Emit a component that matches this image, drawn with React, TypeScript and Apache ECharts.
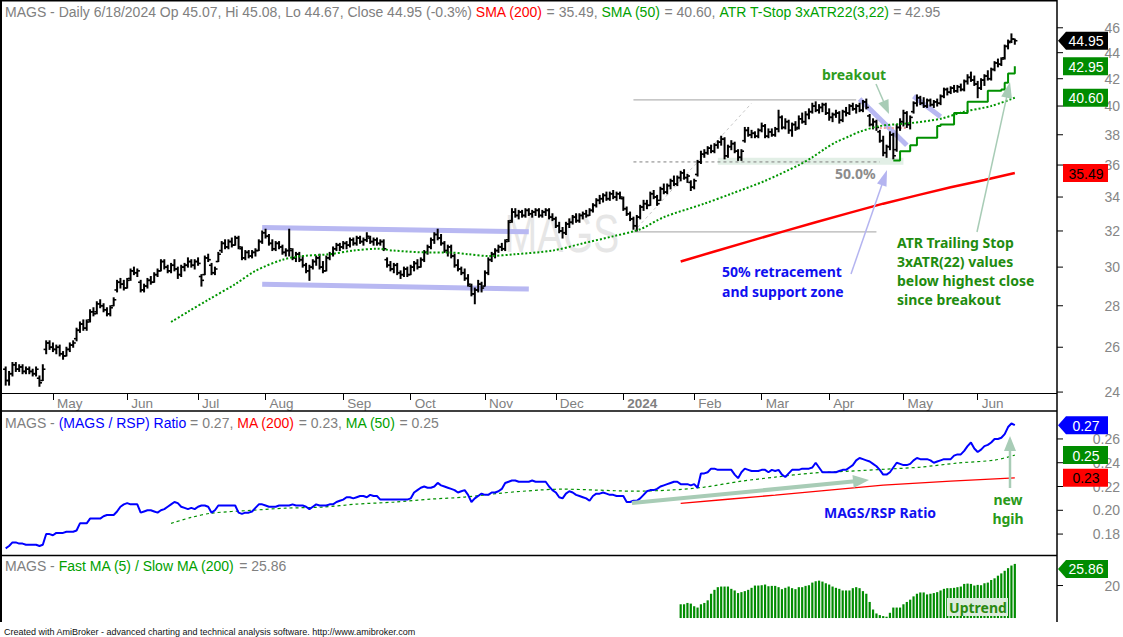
import React, { useEffect, useRef } from "react";
import * as echarts from "echarts";

// ---------- categories / ticks ----------
const N_BARS = 300;
const N_CATS = 312;
const CATS = Array.from({ length: N_CATS }, (_, i) => String(i));
const MONTH_START = [14, 36, 57, 77, 100, 120, 142, 163, 183, 204, 224, 244, 266, 288];
const MONTH_NAME = ["May", "Jun", "Jul", "Aug", "Sep", "Oct", "Nov", "Dec", "2024", "Feb", "Mar", "Apr", "May", "Jun"];
const PRICE_TICKS = [24, 26, 28, 30, 32, 34, 36, 38, 40, 42, 44, 46];
const RATIO_TICKS = [0.18, 0.2, 0.22, 0.24, 0.26];
const OSC_TICKS = [20];

// ---------- price bars [open, high, low, close] (Apr 11 2023 .. Jun 18 2024) ----------
const PRICE_BARS = [
  [25.0,25.1,24.3,24.5],[24.5,24.9,24.3,24.8],[24.8,25.3,24.7,25.2],[25.2,25.3,24.9,25.0],[25.0,25.2,24.9,25.1],
  [25.1,25.2,24.8,24.9],[24.9,25.1,24.8,25.0],[25.0,25.1,24.8,24.9],[24.9,25.0,24.7,24.8],[24.8,25.1,24.7,25.0],
  [24.6,24.7,24.25,24.4],[24.5,25.2,24.5,25.0],[25.9,26.3,25.7,26.2],[26.2,26.3,25.9,26.0],[26.0,26.2,25.8,25.9],
  [25.9,26.1,25.7,26.0],[26.0,26.1,25.6,25.7],[25.7,25.8,25.45,25.6],[25.6,26.0,25.6,25.9],[25.9,26.2,25.8,26.1],
  [26.1,26.3,26.0,26.2],[26.4,26.9,26.3,26.8],[26.8,27.2,26.7,27.1],[27.1,27.3,26.8,26.9],[26.9,27.3,26.8,27.2],
  [27.3,27.8,27.2,27.7],[27.7,27.9,27.5,27.6],[27.7,28.2,27.6,28.1],[28.1,28.3,27.9,28.0],[28.0,28.1,27.7,27.8],
  [27.8,27.9,27.5,27.6],[27.6,28.0,27.5,27.9],[28.0,28.4,28.0,28.3],[28.8,29.3,28.7,29.2],[29.2,29.4,28.9,29.1],
  [29.1,29.3,28.8,28.9],[28.9,29.4,28.9,29.3],[29.4,29.9,29.3,29.8],[29.8,30.0,29.6,29.7],[29.7,29.9,29.5,29.8],
  [29.2,29.3,28.7,28.8],[28.8,29.1,28.7,29.0],[29.0,29.4,28.9,29.3],[29.3,29.5,29.1,29.2],[29.2,29.7,29.2,29.6],
  [29.6,29.9,29.5,29.8],[29.8,30.4,29.8,30.3],[30.3,30.4,29.9,30.0],[30.0,30.1,29.7,29.8],[29.8,30.2,29.7,30.1],
  [30.1,30.4,29.8,29.9],[29.9,30.0,29.4,29.6],[29.6,30.1,29.5,30.0],[30.0,30.2,29.8,30.1],[30.1,30.5,30.0,30.3],
  [30.3,30.4,30.0,30.1],[30.1,30.4,29.9,30.3],[30.3,30.5,30.1,30.2],[29.5,29.6,29.0,29.3],[29.6,30.6,29.6,30.5],
  [30.5,30.7,30.3,30.4],[30.1,30.2,29.6,29.7],[29.7,30.0,29.6,29.9],[30.3,30.8,30.3,30.7],[30.9,31.4,30.8,31.3],
  [31.3,31.5,31.0,31.1],[31.1,31.5,31.0,31.4],[31.4,31.6,31.1,31.2],[31.2,31.7,31.2,31.6],[31.6,31.7,31.0,31.1],
  [31.0,31.1,30.4,30.5],[30.5,30.9,30.4,30.8],[30.8,30.9,30.5,30.6],[30.6,30.9,30.5,30.8],[30.8,31.0,30.6,30.9],
  [30.9,31.5,30.9,31.4],[31.4,32.0,31.3,31.9],[31.9,32.1,31.6,31.7],[31.7,31.8,31.2,31.3],[31.3,31.5,30.9,31.0],
  [31.0,31.4,30.9,31.3],[31.3,31.4,31.0,31.1],[31.1,31.2,30.7,30.8],[30.8,31.0,30.6,30.9],[30.9,32.1,30.6,31.0],
  [30.9,31.0,30.4,30.5],[30.5,30.8,30.3,30.7],[30.7,30.8,30.3,30.4],[30.4,30.6,30.0,30.1],[30.1,30.2,29.7,29.8],
  [29.8,30.1,29.3,30.0],[30.0,30.4,29.9,30.3],[30.3,30.6,30.1,30.5],[30.5,30.7,29.9,30.0],[30.0,30.3,29.7,29.8],
  [29.8,30.6,29.8,30.5],[30.5,30.8,30.4,30.7],[30.7,31.1,30.6,31.0],[31.0,31.3,30.9,31.2],[31.2,31.3,30.9,31.1],
  [31.1,31.4,31.0,31.3],[31.3,31.4,31.0,31.2],[31.2,31.6,31.1,31.5],[31.5,31.6,31.2,31.3],[31.3,31.7,31.2,31.6],
  [31.6,31.7,31.3,31.4],[31.4,31.6,31.2,31.5],[31.5,31.9,31.4,31.7],[31.6,31.7,31.3,31.4],[31.4,31.6,31.2,31.5],
  [31.5,31.6,31.2,31.3],[31.3,31.5,31.2,31.4],[31.4,31.5,30.9,31.0],[30.4,30.5,30.0,30.1],[30.1,30.3,29.8,29.9],
  [29.9,30.2,29.7,30.1],[30.1,30.2,29.6,29.7],[29.7,29.8,29.4,29.6],[29.6,30.0,29.5,29.9],[29.9,30.0,29.5,29.6],
  [29.6,30.1,29.6,30.0],[30.0,30.3,29.8,30.2],[30.2,30.4,29.9,30.0],[30.0,30.5,30.0,30.4],[30.4,30.9,30.3,30.8],
  [30.8,31.2,30.7,31.1],[31.1,31.6,31.0,31.5],[31.5,31.9,31.3,31.8],[31.8,32.1,31.5,31.6],[31.6,31.8,31.2,31.3],
  [31.3,31.4,30.8,30.9],[30.9,31.2,30.6,31.1],[31.1,31.2,30.5,30.6],[30.6,30.7,30.0,30.1],[30.1,30.4,29.8,29.9],
  [29.9,30.0,29.6,29.7],[29.7,29.9,29.3,29.4],[29.4,29.6,29.0,29.1],[29.0,29.1,28.5,28.6],[28.6,28.9,28.1,28.8],
  [28.8,29.3,28.7,29.1],[29.1,29.2,28.7,28.9],[29.0,29.8,29.0,29.7],[29.7,30.5,29.6,30.4],[30.4,30.8,30.3,30.7],
  [30.7,31.0,30.5,30.9],[30.9,31.2,30.8,31.1],[31.1,31.3,30.9,31.0],[31.0,31.5,30.9,31.4],[31.5,32.6,31.4,32.5],
  [32.6,33.3,32.5,33.1],[33.1,33.3,32.8,32.9],[32.9,33.2,32.7,33.1],[33.1,33.2,32.8,32.9],[32.9,33.3,32.8,33.2],
  [33.2,33.3,32.9,33.0],[33.0,33.2,32.8,33.1],[33.1,33.3,32.9,33.2],[33.2,33.3,32.8,32.9],[32.9,33.2,32.8,33.1],
  [33.1,33.3,32.9,33.2],[33.2,33.3,32.7,32.8],[32.8,33.0,32.6,32.7],[32.7,32.8,32.2,32.3],[32.3,32.5,31.9,32.0],
  [32.0,32.2,31.6,31.9],[31.9,32.5,31.8,32.4],[32.4,32.7,32.2,32.5],[32.5,32.9,32.4,32.8],[32.8,33.0,32.5,32.6],
  [32.6,33.0,32.5,32.9],[32.9,33.1,32.7,33.0],[33.0,33.2,32.8,32.9],[32.9,33.3,32.9,33.2],[33.2,33.6,33.1,33.5],
  [33.5,33.9,33.4,33.8],[33.8,34.1,33.6,33.9],[33.9,34.2,33.7,34.1],[34.1,34.3,33.8,33.9],[33.9,34.3,33.8,34.2],
  [34.2,34.4,33.9,34.0],[34.0,34.3,33.8,34.2],[34.2,34.3,33.9,34.0],[33.9,34.0,33.2,33.3],[33.3,33.4,32.9,33.0],
  [33.0,33.1,32.6,32.7],[32.7,32.8,32.1,32.3],[32.3,32.9,32.0,32.8],[32.8,33.5,32.7,33.4],[33.4,33.8,33.2,33.6],
  [33.6,33.8,33.3,33.5],[33.5,34.3,33.5,34.2],[34.2,34.4,33.9,34.0],[34.0,34.1,33.5,33.6],[33.8,34.6,33.8,34.5],
  [34.5,34.8,34.2,34.3],[34.3,34.8,34.2,34.7],[34.7,35.1,34.5,35.0],[35.0,35.3,34.7,34.8],[34.8,35.3,34.7,35.2],
  [35.2,35.6,35.0,35.5],[35.5,35.7,35.1,35.2],[35.2,35.4,34.9,35.3],[34.9,35.0,34.4,34.6],[34.6,35.1,34.5,35.0],
  [35.4,36.3,35.3,36.2],[36.2,36.9,36.1,36.7],[36.7,37.0,36.5,36.8],[36.8,37.2,36.7,37.1],[37.1,37.3,36.8,36.9],
  [36.9,37.4,36.8,37.3],[37.3,37.6,37.1,37.5],[37.5,37.9,37.3,37.7],[37.7,37.8,36.4,36.6],[36.6,37.3,36.5,37.2],
  [37.2,37.6,37.0,37.4],[37.4,37.5,36.8,36.9],[36.9,37.0,36.3,36.5],[36.5,37.0,36.3,36.9],[37.6,38.5,37.5,38.3],
  [38.3,38.5,37.9,38.0],[38.0,38.3,37.8,38.1],[38.1,38.2,37.8,37.9],[37.9,38.4,37.8,38.3],[38.3,38.8,38.2,38.6],
  [38.6,38.7,37.8,37.9],[37.9,38.4,37.8,38.2],[38.2,38.4,37.9,38.0],[38.0,38.5,37.9,38.4],[38.4,39.7,38.2,39.2],
  [39.2,39.3,38.4,38.5],[38.5,39.1,38.4,38.9],[38.9,39.0,38.1,38.3],[38.3,38.8,37.9,38.7],[38.7,38.9,38.3,38.4],
  [38.5,39.3,38.4,39.1],[39.1,39.5,38.8,38.9],[38.9,39.6,38.7,39.4],[39.4,39.8,39.1,39.6],[39.6,40.2,39.5,40.0],
  [40.0,40.3,39.6,39.7],[39.7,40.1,39.5,39.9],[39.9,40.2,39.6,40.1],[40.1,40.2,39.4,39.5],[39.5,39.8,39.0,39.2],
  [39.2,39.5,38.9,39.4],[39.4,39.7,39.2,39.5],[39.5,39.6,38.8,39.0],[39.0,39.7,38.9,39.6],[39.6,39.9,39.3,39.5],
  [39.5,40.1,39.4,40.0],[40.0,40.2,39.7,39.8],[39.8,40.1,39.5,40.0],[40.0,40.2,39.6,39.7],[39.7,40.4,39.6,40.3],
  [40.3,40.5,39.8,39.9],[39.3,39.4,38.6,38.7],[38.7,39.1,38.4,38.9],[38.9,39.0,38.3,38.5],[38.2,38.3,37.5,37.6],
  [37.6,37.9,36.6,36.8],[36.8,37.3,36.5,37.2],[37.2,38.2,37.0,38.0],[38.0,38.1,36.4,36.6],[37.0,38.7,36.9,38.5],
  [38.5,39.1,38.3,38.9],[38.9,39.7,38.6,39.5],[39.5,39.6,38.5,38.7],[38.7,39.3,38.4,39.2],[39.6,40.3,39.5,40.2],
  [40.2,40.8,40.0,40.6],[40.6,40.7,40.1,40.2],[40.2,40.6,39.9,40.0],[40.0,40.5,39.9,40.4],[40.4,40.5,40.0,40.1],
  [40.1,40.4,39.9,40.3],[40.3,40.5,40.0,40.2],[40.2,40.8,40.1,40.7],[40.7,41.3,40.6,41.2],[41.2,41.3,40.8,41.0],
  [41.0,41.4,40.9,41.3],[41.3,41.5,41.0,41.1],[41.1,41.5,41.0,41.4],[41.4,41.6,41.1,41.2],[41.2,41.9,41.1,41.8],
  [41.8,42.3,41.6,42.1],[42.1,42.5,41.8,41.9],[41.9,42.2,41.5,41.6],[41.6,41.8,40.6,41.3],[41.3,42.0,41.2,41.9],
  [41.9,42.3,41.5,42.2],[42.2,42.6,41.9,42.0],[42.0,42.8,41.9,42.7],[42.7,43.3,42.6,43.2],[43.2,43.5,42.9,43.1],
  [43.1,43.6,43.0,43.5],[43.6,44.6,43.5,44.5],[44.5,45.0,44.3,44.8],[44.9,45.5,44.8,45.09],[45.07,45.08,44.67,44.95],
];

// ---------- price overlays ----------
const SMA200 = [[200,30.3],[210,30.85],[220,31.4],[230,31.95],[240,32.5],[250,33.05],[260,33.6],[270,34.1],[280,34.6],[290,35.05],[299,35.49]];
const SMA50 = [[49,27.2],[54,27.7],[60,28.3],[68,29.1],[74,29.8],[82,30.4],[88,30.6],[96,30.7],[103,30.9],[110,31.0],[115,30.9],[125,30.8],[131,30.8],[137,30.7],[143,30.6],[151,30.7],[162,30.9],[171,31.3],[180,31.7],[188,32.1],[195,32.8],[207,33.6],[215,34.2],[225,35.0],[235,36.0],[239,36.5],[243,37.1],[246,37.5],[250,37.9],[253,38.2],[259,38.6],[268,38.8],[277,39.1],[284,39.6],[292,40.0],[299,40.6]];
const ATR_START = 263;
const ATR_STOP = [36.3,36.3,36.9,36.9,36.9,37.3,37.3,37.8,37.8,37.8,37.8,37.8,37.8,38.6,38.7,38.7,38.7,38.7,39.5,39.5,39.5,39.5,40.3,40.3,40.3,40.3,40.3,40.3,41.1,41.1,41.1,41.1,41.2,41.7,42.4,42.4,42.95];

// ---------- ratio panel ----------
const RATIO = [
  .168,.170,.173,.173,.172,.172,.171,.171,.171,.171,
  .170,.171,.180,.180,.179,.181,.181,.181,.182,.182,
  .182,.183,.189,.189,.189,.193,.193,.193,.193,.195,
  .196,.196,.196,.199,.203,.205,.206,.205,.205,.205,
  .198,.199,.200,.200,.199,.198,.200,.201,.203,.205,
  .207,.206,.203,.202,.201,.202,.201,.203,.204,.204,
  .203,.198,.200,.204,.204,.204,.204,.204,.204,.198,
  .197,.198,.198,.199,.202,.205,.205,.204,.203,.203,
  .203,.204,.204,.204,.204,.205,.204,.204,.204,.203,
  .201,.203,.205,.204,.204,.204,.205,.205,.207,.208,
  .209,.211,.211,.210,.211,.212,.212,.211,.213,.212,
  .212,.209,.209,.209,.209,.209,.209,.209,.209,.209,
  .210,.215,.217,.219,.220,.219,.219,.220,.223,.221,
  .220,.219,.218,.217,.215,.216,.217,.213,.207,.210,
  .212,.214,.213,.213,.215,.215,.216,.218,.223,.224,
  .225,.225,.224,.224,.224,.224,.225,.224,.224,.224,
  .224,.220,.217,.215,.211,.210,.214,.216,.215,.213,
  .212,.211,.210,.208,.212,.214,.214,.215,.214,.213,
  .213,.212,.212,.212,.207,.207,.208,.208,.210,.213,
  .216,.217,.217,.218,.220,.221,.222,.223,.224,.224,
  .222,.222,.222,.221,.222,.219,.231,.231,.232,.235,
  .235,.234,.234,.234,.234,.234,.230,.227,.232,.235,
  .234,.233,.233,.233,.234,.234,.232,.234,.233,.234,
  .230,.228,.231,.234,.234,.234,.235,.235,.235,.236,
  .240,.236,.232,.232,.232,.232,.232,.233,.234,.234,
  .236,.238,.242,.244,.243,.242,.241,.239,.237,.234,
  .230,.230,.232,.236,.240,.239,.238,.238,.239,.242,
  .244,.243,.243,.243,.242,.240,.241,.242,.243,.243,
  .243,.246,.247,.247,.250,.254,.257,.252,.249,.251,
  .254,.255,.257,.260,.260,.261,.264,.270,.273,.2716,
];
const RATIO_MA50 = [[49,.189],[55,.194],[61,.1976],[73,.200],[83,.2018],[94,.2027],[104,.2052],[115,.2069],[126,.2094],[136,.2111],[147,.2145],[158,.217],[165,.2178],[175,.217],[186,.2161],[197,.217],[207,.2195],[218,.2245],[228,.2279],[239,.2313],[250,.2329],[261,.2346],[271,.2363],[282,.2397],[293,.2422],[299,.2464]];
const RATIO_MA200 = [[200,.2058],[214,.2093],[228,.2128],[244,.2170],[260,.2212],[280,.2245],[299,.2273]];

// ---------- fast/slow oscillator ----------
const OSC_START = 200;
const OSC_BASE = 11.2;
const OSC = [
  14.93,14.93,15.29,15.11,14.4,14.04,14.93,15.29,16.0,17.78,
  18.84,19.56,19.73,19.73,19.73,19.11,18.67,17.96,18.22,18.49,
  18.84,19.38,20.0,20.0,20.09,20.27,19.82,19.91,19.91,19.56,
  19.02,19.38,19.73,19.29,19.02,19.56,19.56,19.91,20.09,20.8,
  21.16,21.33,21.07,20.62,20.27,19.73,19.38,19.11,18.67,18.67,
  18.67,19.29,19.56,19.29,18.49,17.78,15.56,13.51,12.44,12.0,
  11.73,11.56,12.62,14.04,14.04,14.04,14.93,15.56,16.18,17.07,
  17.78,18.13,18.13,17.6,17.78,17.96,18.22,18.67,19.11,19.29,
  19.29,19.38,19.56,19.73,20.44,20.53,20.44,20.0,20.18,20.09,
  20.62,20.8,21.51,21.96,22.67,23.29,24.0,24.71,25.42,25.86,
];

// ---------- last-value boxes ----------
const PRICE_BOXES = [
  { v: 35.49, text: "35.49", bg: "#ff0000", fg: "#000000", arrow: false },
  { v: 40.6, text: "40.60", bg: "#008c00", fg: "#ffffff", arrow: false },
  { v: 42.95, text: "42.95", bg: "#008c00", fg: "#ffffff", arrow: false },
  { v: 44.95, text: "44.95", bg: "#000000", fg: "#ffffff", arrow: true },
];
const RATIO_BOXES = [
  { v: 0.2273, text: "0.23", bg: "#ff0000", fg: "#000000", arrow: false },
  { v: 0.2464, text: "0.25", bg: "#008c00", fg: "#ffffff", arrow: false },
  { v: 0.2716, text: "0.27", bg: "#0000ff", fg: "#ffffff", arrow: true },
];
const OSC_BOXES = [{ v: 25.86, text: "25.86", bg: "#008c00", fg: "#ffffff", arrow: true, dy: 5 }];

// ---------- drawn annotations (bar index, price) ----------
const ANNOT = [
  { a: [211, 36.25], b: [266, 36.25], color: "#e2efe6", width: 7 },
  { a: [186, 40.45], b: [252, 40.45], color: "#b4b4b4", width: 1.2 },
  { a: [186, 31.95], b: [258, 31.95], color: "#b4b4b4", width: 1.2 },
  { a: [186, 36.2], b: [259, 36.2], color: "#808080", width: 1, type: [3, 3] },
  { a: [186, 31.95], b: [221, 40.2], color: "#c8c8c8", width: 1, type: [3, 3] },
  { a: [76, 32.2], b: [155, 31.95], color: "#b8b8f2", width: 5 },
  { a: [76, 29.1], b: [155, 28.85], color: "#b8b8f2", width: 5 },
  { a: [253, 40.5], b: [267, 37.3], color: "#b8b8f2", width: 5 },
  { a: [269, 40.7], b: [277, 39.24], color: "#b8b8f2", width: 5 },
  { a: [259, 38.47], b: [267, 38.47], color: "#f0a0a0", width: 2, type: [2, 2] },
];

const FONT = '"Liberation Sans", Arial, sans-serif';
const BOLD = '"Noto Sans", "DejaVu Sans", sans-serif';
const GREY = "#808080";

function arrow(x1: number, y1: number, x2: number, y2: number, color: string, lw: number, hl: number, hw: number) {
  const dx = x2 - x1, dy = y2 - y1;
  const len = Math.hypot(dx, dy);
  const ux = dx / len, uy = dy / len;
  const bx = x2 - ux * hl, by = y2 - uy * hl;
  const nx = -uy, ny = ux;
  return [
    { type: "line", z: 50, silent: true, shape: { x1, y1, x2: bx + ux * 2, y2: by + uy * 2 }, style: { stroke: color, lineWidth: lw } },
    { type: "polygon", z: 50, silent: true, shape: { points: [[x2, y2], [bx + nx * hw / 2, by + ny * hw / 2], [bx - nx * hw / 2, by - ny * hw / 2]] }, style: { fill: color } },
  ];
}

function txt(x: number, y: number, text: string, fill: string, font: string, align = "left", extra: any = {}) {
  return { type: "text", z: 50, silent: true, x, y, style: { text, fill, font, align, verticalAlign: "middle" }, ...extra };
}

function axisRender(fmt: (v: number) => string) {
  return (params: any, api: any) => {
    const cs = params.coordSys;
    const v = api.value(1);
    const p = api.coord([0, v]);
    const xr = cs.x + cs.width;
    return {
      type: "group",
      children: [
        { type: "line", shape: { x1: xr, y1: p[1], x2: xr + 6, y2: p[1] }, style: { stroke: "#000", lineWidth: 1 } },
        { type: "text", x: 1120, y: p[1], style: { text: fmt(v), fill: "#868686", font: "14px " + FONT, align: "right", verticalAlign: "middle" } },
      ],
    };
  };
}

function boxRender(boxes: any[]) {
  return (params: any, api: any) => {
    const b = boxes[params.dataIndex];
    const cs = params.coordSys;
    const p = api.coord([0, api.value(1)]);
    const y = p[1] + (b.dy || 0);
    const xa = cs.x + cs.width + 1;
    const xr = 1108;
    const shape = b.arrow
      ? { type: "polygon", shape: { points: [[xa, y], [xa + 8, y - 9], [xr, y - 9], [xr, y + 9], [xa + 8, y + 9]] }, style: { fill: b.bg } }
      : { type: "rect", shape: { x: 1063, y: y - 9, width: xr - 1063, height: 18 }, style: { fill: b.bg } };
    return {
      type: "group",
      children: [
        shape,
        { type: "text", x: 1086, y: y + 0.5, style: { text: b.text, fill: b.fg, font: "14px " + FONT, align: "center", verticalAlign: "middle" } },
      ],
    };
  };
}

function renderBar(params: any, api: any) {
  const i = api.value(0);
  const o = api.coord([i, api.value(1)]);
  const h = api.coord([i, api.value(2)]);
  const l = api.coord([i, api.value(3)]);
  const c = api.coord([i, api.value(4)]);
  const x = h[0];
  return {
    type: "group",
    children: [
      { type: "line", shape: { x1: x, y1: h[1] - 0.5, x2: x, y2: l[1] + 0.5 }, style: { stroke: "#000", lineWidth: 2 } },
      { type: "line", shape: { x1: x - 2.6, y1: o[1], x2: x, y2: o[1] }, style: { stroke: "#000", lineWidth: 1.6 } },
      { type: "line", shape: { x1: x, y1: c[1], x2: x + 2.6, y2: c[1] }, style: { stroke: "#000", lineWidth: 1.6 } },
    ],
  };
}

function renderHist(params: any, api: any) {
  const i = api.value(0);
  const top = api.coord([i, api.value(1)]);
  const base = api.coord([i, OSC_BASE]);
  return { type: "rect", shape: { x: top[0] - 1.1, y: top[1], width: 2.2, height: base[1] - top[1] }, style: { fill: "#008c00" } };
}

export default function App() {
  const ref = useRef<HTMLDivElement>(null);
  useEffect(() => {
    if (!ref.current) return;
    const chart = echarts.init(ref.current, null, { renderer: "svg" });
    const monthSet = new Set(MONTH_START);
    const gridBase = { left: 4, right: 66, containLabel: false, outerBoundsMode: "none" };

    const annotSeries = ANNOT.map((s) => ({
      type: "line",
      xAxisIndex: 0,
      yAxisIndex: 0,
      z: 1,
      silent: true,
      symbol: "none",
      data: [s.a, s.b],
      lineStyle: { color: s.color, width: s.width, type: s.type || "solid" },
    }));

    const titleTop =
      "{g|MAGS - Daily 6/18/2024 Op 45.07, Hi 45.08, Lo 44.67, Close 44.95 (-0.3%) }{r|SMA (200)}{g| = 35.49, }{n|SMA (50)}{g| = 40.60, }{n|ATR T-Stop 3xATR22(3,22)}{g| = 42.95}";
    const titleMid = "{g|MAGS - }{b|(MAGS / RSP) Ratio}{g| = 0.27, }{r|MA (200)}{g| = 0.23, }{n|MA (50)}{g| = 0.25}";
    const titleBot = "{g|MAGS - }{n|Fast MA (5) / Slow MA (200)}{g| = 25.86}";
    const rich = {
      g: { fill: GREY, fontSize: 14, fontFamily: FONT },
      r: { fill: "#ff0000", fontSize: 14, fontFamily: FONT },
      n: { fill: "#00a000", fontSize: 14, fontFamily: FONT },
      b: { fill: "#0000ff", fontSize: 14, fontFamily: FONT },
    };
    const titleEl = (y: number, text: string) => ({ type: "text", z: 60, silent: true, x: 5, y, style: { text, rich, font: "14px " + FONT, verticalAlign: "middle" } });

    const frame = [
      { type: "line", z: 60, shape: { x1: 1, y1: 0, x2: 1, y2: 622 }, style: { stroke: "#000", lineWidth: 2 } },
      { type: "line", z: 60, shape: { x1: 1057, y1: 0, x2: 1057, y2: 622 }, style: { stroke: "#000", lineWidth: 1.5 } },
      { type: "line", z: 60, shape: { x1: 0, y1: 0.75, x2: 1057, y2: 0.75 }, style: { stroke: "#000", lineWidth: 1.5 } },
      { type: "line", z: 60, shape: { x1: 0, y1: 393.5, x2: 1057, y2: 393.5 }, style: { stroke: "#000", lineWidth: 1 } },
      { type: "line", z: 60, shape: { x1: 0, y1: 411, x2: 1057, y2: 411 }, style: { stroke: "#000", lineWidth: 1.5 } },
      { type: "line", z: 60, shape: { x1: 0, y1: 555.5, x2: 1057, y2: 555.5 }, style: { stroke: "#000", lineWidth: 1.5 } },
    ];

    const annoGreen = "#1f8c10";
    const graphics: any[] = [
      { type: "text", z: 0, silent: true, x: 562, y: 233, scaleX: 0.72, style: { text: "MAGS", fill: "#e6e6e6", font: "54px " + FONT, align: "center", verticalAlign: "middle" } },
      ...frame,
      titleEl(12, titleTop),
      titleEl(423, titleMid),
      titleEl(566, titleBot),
      txt(4, 632, "Created with AmiBroker - advanced charting and technical analysis software. http://www.amibroker.com", "#101010", "9px " + FONT),
      txt(854, 74, "breakout", "#2e9c1e", "bold 14px " + BOLD, "center"),
      txt(722, 271, "50% retracement", "#1010f0", "bold 14px " + BOLD),
      txt(722, 291, "and support zone", "#1010f0", "bold 14px " + BOLD),
      txt(897, 242, "ATR Trailing Stop", annoGreen, "bold 14px " + BOLD),
      txt(897, 261, "3xATR(22) values", annoGreen, "bold 14px " + BOLD),
      txt(897, 280, "below highest close", annoGreen, "bold 14px " + BOLD),
      txt(897, 299, "since breakout", annoGreen, "bold 14px " + BOLD),
      txt(835, 173, "50.0%", "#8c8c8c", "bold 14px " + BOLD),
      txt(824, 512, "MAGS/RSP Ratio", "#1010f0", "bold 14px " + BOLD),
      txt(1008, 499, "new", "#2a9a1a", "bold 14px " + BOLD, "center"),
      txt(1008, 518, "hgih", "#2a9a1a", "bold 14px " + BOLD, "center"),
      { type: "rect", z: 40, silent: true, shape: { x: 947, y: 598, width: 61, height: 18 }, style: { fill: "#dcecdc" } },
      txt(978, 607, "Uptrend", "#2a8a10", "bold 14px " + BOLD, "center"),
      ...arrow(876, 84, 889, 114, "#a8ccb6", 1.5, 14, 11),
      ...arrow(851, 274, 887, 170, "#b4b4f0", 1.5, 16, 10),
      ...arrow(977, 232, 1010, 82, "#a8ccb6", 1.5, 16, 11),
      ...arrow(632, 503, 869, 480, "#a8ccb6", 4, 16, 13),
      ...arrow(1010, 488, 1010, 436, "#a8ccb6", 2.5, 15, 12),
    ];

    const option: any = {
      animation: false,
      backgroundColor: "#ffffff",
      grid: [
        { ...gridBase, top: 0, height: 393 },
        { ...gridBase, top: 411, height: 144 },
        { ...gridBase, top: 556, height: 65 },
      ],
      xAxis: [
        {
          type: "category",
          gridIndex: 0,
          data: CATS,
          boundaryGap: true,
          axisLine: { show: false },
          axisTick: { show: true, alignWithLabel: true, length: 7, interval: (i: number) => monthSet.has(i), lineStyle: { color: "#000", width: 1 } },
          axisLabel: {
            interval: (i: number) => monthSet.has(i),
            formatter: (_v: string, i: number) => {
              const k = MONTH_START.indexOf(i);
              const name = k >= 0 ? MONTH_NAME[k] : "";
              return name === "2024" ? "{b|2024}" : name;
            },
            color: GREY,
            fontSize: 13.5,
            fontFamily: FONT,
            align: "left",
            padding: [0, 0, 0, 4],
            margin: 3,
            hideOverlap: false,
            rich: { b: { color: GREY, fontSize: 13.5, fontFamily: FONT, fontWeight: "bold" } },
          },
          splitLine: { show: false },
        },
        { type: "category", gridIndex: 1, data: CATS, boundaryGap: true, show: false },
        { type: "category", gridIndex: 2, data: CATS, boundaryGap: true, show: false },
      ],
      yAxis: [
        { type: "log", logBase: 10, gridIndex: 0, min: 23.96, max: 48.34, show: false },
        { type: "value", gridIndex: 1, min: 0.1624, max: 0.2835, show: false },
        { type: "value", gridIndex: 2, min: 10.4, max: 28, show: false },
      ],
      series: [
        ...annotSeries,
        {
          type: "custom",
          name: "MAGS",
          xAxisIndex: 0,
          yAxisIndex: 0,
          z: 3,
          silent: true,
          data: PRICE_BARS.map((b, i) => [i, b[0], b[1], b[2], b[3]]),
          encode: { x: 0, y: [1, 2, 3, 4] },
          renderItem: renderBar,
        },
        { type: "line", name: "SMA200", xAxisIndex: 0, yAxisIndex: 0, z: 4, silent: true, symbol: "none", data: SMA200, lineStyle: { color: "#ff0000", width: 2.5 } },
        { type: "line", name: "SMA50", xAxisIndex: 0, yAxisIndex: 0, z: 4, silent: true, symbol: "none", smooth: 0.3, data: SMA50, lineStyle: { color: "#009600", width: 2, type: [2, 2] } },
        { type: "line", name: "ATR", xAxisIndex: 0, yAxisIndex: 0, z: 4, silent: true, symbol: "none", step: "end", data: ATR_STOP.map((v, k) => [ATR_START + k, v]), lineStyle: { color: "#009000", width: 2 } },
        { type: "custom", xAxisIndex: 0, yAxisIndex: 0, z: 8, clip: false, silent: true, data: PRICE_TICKS.map((v) => [0, v]), encode: { x: 0, y: 1 }, renderItem: axisRender((v) => String(v)) },
        { type: "custom", xAxisIndex: 0, yAxisIndex: 0, z: 9, clip: false, silent: true, data: PRICE_BOXES.map((b) => [0, b.v]), encode: { x: 0, y: 1 }, renderItem: boxRender(PRICE_BOXES) },

        { type: "line", name: "RatioMA200", xAxisIndex: 1, yAxisIndex: 1, z: 3, silent: true, symbol: "none", data: RATIO_MA200, lineStyle: { color: "#ff0000", width: 1.3 } },
        { type: "line", name: "RatioMA50", xAxisIndex: 1, yAxisIndex: 1, z: 3, silent: true, symbol: "none", smooth: 0.3, data: RATIO_MA50, lineStyle: { color: "#009000", width: 1.2, type: [3, 3] } },
        { type: "line", name: "Ratio", xAxisIndex: 1, yAxisIndex: 1, z: 4, silent: true, symbol: "none", data: RATIO.map((v, i) => [i, v]), lineStyle: { color: "#0000ff", width: 2 } },
        { type: "custom", xAxisIndex: 1, yAxisIndex: 1, z: 8, clip: false, silent: true, data: RATIO_TICKS.map((v) => [0, v]), encode: { x: 0, y: 1 }, renderItem: axisRender((v) => v.toFixed(2)) },
        { type: "custom", xAxisIndex: 1, yAxisIndex: 1, z: 9, clip: false, silent: true, data: RATIO_BOXES.map((b) => [0, b.v]), encode: { x: 0, y: 1 }, renderItem: boxRender(RATIO_BOXES) },

        { type: "custom", name: "FastSlow", xAxisIndex: 2, yAxisIndex: 2, z: 3, silent: true, data: OSC.map((v, k) => [OSC_START + k, v]), encode: { x: 0, y: 1 }, renderItem: renderHist },
        { type: "custom", xAxisIndex: 2, yAxisIndex: 2, z: 8, clip: false, silent: true, data: OSC_TICKS.map((v) => [0, v]), encode: { x: 0, y: 1 }, renderItem: axisRender((v) => String(v)) },
        { type: "custom", xAxisIndex: 2, yAxisIndex: 2, z: 9, clip: false, silent: true, data: OSC_BOXES.map((b) => [0, b.v]), encode: { x: 0, y: 1 }, renderItem: boxRender(OSC_BOXES) },
      ],
      graphic: { elements: graphics },
    };
    chart.setOption(option);
    return () => chart.dispose();
  }, []);

  return (
    <div
      ref={ref}
      style={{ position: "fixed", left: 0, top: 0, width: 1123, height: 637, background: "#fff" }}
    />
  );
}
